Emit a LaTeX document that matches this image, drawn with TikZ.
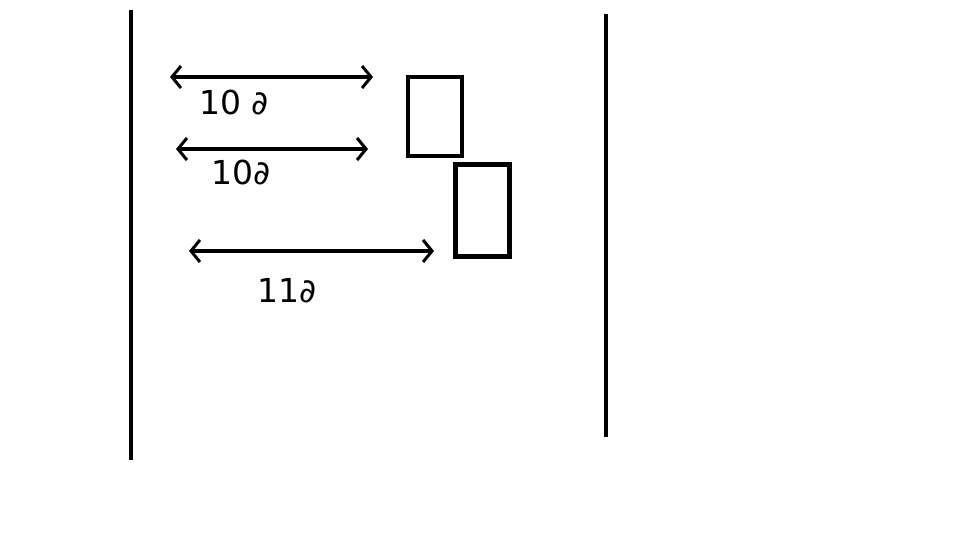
\documentclass[tikz,border=0pt]{standalone}
\usepackage{fontspec}
\newfontfamily\labfont{DejaVu Sans}
\usetikzlibrary{arrows.meta}
\begin{document}
\begin{tikzpicture}[x=1pt,y=-1pt,
  wall/.style={line width=4.5pt},
  boxn/.style={draw,line width=4.5pt,minimum width=54pt,minimum height=79pt,inner sep=0pt},
  dim/.style={line width=4.5pt,{Straight Barb[length=9pt,width=22pt,line width=3pt]}-{Straight Barb[length=9pt,width=22pt,line width=3pt]}},
  lab/.style={font=\fontsize{33}{35}\selectfont\labfont,inner sep=0pt}]
\useasboundingbox (0,0) rectangle (960,540);
\coordinate (lt) at (131,10); \coordinate (lb) at (131,460);
\coordinate (rt) at (606,14); \coordinate (rb) at (606,437);
\draw[wall] (lt) -- (lb);
\draw[wall] (rt) -- (rb);
\node[boxn] (b1) at (435,116.5) {};
\node[boxn,minimum height=92pt] (b2) at (482.5,210.5) {};
\coordinate (a1l) at (170,77); \coordinate (a1r) at (373,77);
\coordinate (a2l) at (176,149); \coordinate (a2r) at (368,149);
\coordinate (a3l) at (189,251); \coordinate (a3r) at (434,251);
\draw[dim] (a1l) -- (a1r);
\draw[dim] (a2l) -- (a2r);
\draw[dim] (a3l) -- (a3r);
\node[lab] (t1) at (234,102) {10 ∂};
\node[lab] (t2) at (241,172) {10∂};
\node[lab] (t3) at (287,291) {11∂};
\end{tikzpicture}
\end{document}
